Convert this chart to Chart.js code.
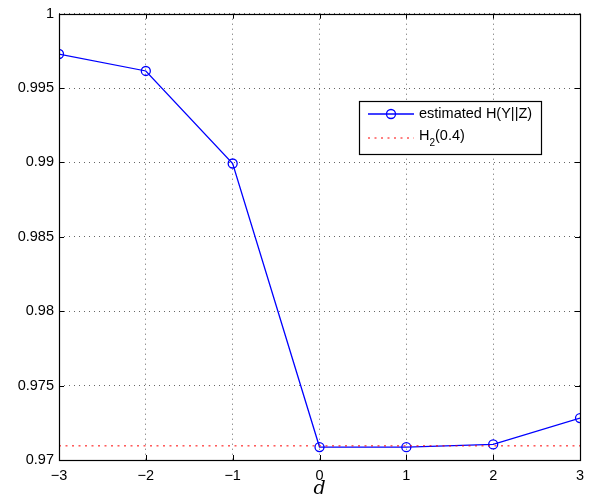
<!DOCTYPE html>
<html>
<head>
<meta charset="utf-8">
<script src="https://cdn.jsdelivr.net/npm/chart.js@4"></script>
<style>
  html, body { margin: 0; padding: 0; background: #fff; }
  #wrap { width: 597px; height: 500px; }
</style>
</head>
<body>
<div id="wrap"><canvas id="lineChart" width="597" height="500"></canvas></div>
<script>
// data
const dValues = [-3, -2, -1, 0, 1, 2, 3];
const estimatedH = [0.99729, 0.99615, 0.98993, 0.97087, 0.97086, 0.97105, 0.97282];
const h2Level = 0.97095; // H2(0.4)
const xTicks = [-3, -2, -1, 0, 1, 2, 3];
const yTicks = [0.97, 0.975, 0.98, 0.985, 0.99, 0.995, 1];

const fontFamily = "'Liberation Sans', Arial, sans-serif";

// box, inward ticks and legend, like a matlab figure
const matlabFrame = {
    id: 'matlabFrame',
    afterDraw(chart) {
        const ctx = chart.ctx;
        const a = chart.chartArea;
        const xs = chart.scales.x, ys = chart.scales.y;
        ctx.save();
        ctx.strokeStyle = '#000';
        ctx.lineWidth = 1;
        ctx.setLineDash([]);
        ctx.beginPath();
        xTicks.forEach(t => {
            const px = Math.round(xs.getPixelForValue(t)) + 0.5;
            ctx.moveTo(px, a.bottom); ctx.lineTo(px, a.bottom - 5);
            ctx.moveTo(px, a.top); ctx.lineTo(px, a.top + 5);
        });
        yTicks.forEach(t => {
            const py = Math.round(ys.getPixelForValue(t)) + 0.5;
            ctx.moveTo(a.left, py); ctx.lineTo(a.left + 5, py);
            ctx.moveTo(a.right, py); ctx.lineTo(a.right - 5, py);
        });
        ctx.stroke();
        ctx.lineWidth = 1.2;
        ctx.strokeRect(Math.round(a.left) + 0.5, Math.round(a.top) + 0.5,
            Math.round(a.right - a.left), Math.round(a.bottom - a.top));

        // legend
        const lx = 359.5, ly = 101.5, lw = 182, lh = 53;
        ctx.fillStyle = '#fff';
        ctx.fillRect(lx, ly, lw, lh);
        ctx.strokeStyle = '#000';
        ctx.lineWidth = 1.2;
        ctx.strokeRect(lx, ly, lw, lh);

        ctx.strokeStyle = '#0000ff';
        ctx.lineWidth = 1.3;
        ctx.beginPath();
        ctx.moveTo(368, 114); ctx.lineTo(414, 114);
        ctx.stroke();
        ctx.beginPath();
        ctx.arc(391, 114, 4.5, 0, Math.PI * 2);
        ctx.stroke();

        ctx.strokeStyle = '#ff0000';
        ctx.lineWidth = 1;
        ctx.setLineDash([2, 4.5]);
        ctx.beginPath();
        ctx.moveTo(368, 138); ctx.lineTo(414, 138);
        ctx.stroke();
        ctx.setLineDash([]);

        ctx.fillStyle = '#000';
        ctx.font = '14.5px ' + fontFamily;
        ctx.textBaseline = 'middle';
        ctx.textAlign = 'left';
        ctx.fillText('estimated H(Y||Z)', 419, 114);
        ctx.fillText('H', 419, 136);
        const hw = ctx.measureText('H').width;
        ctx.font = '10px ' + fontFamily;
        ctx.fillText('2', 419 + hw, 143);
        const sw = ctx.measureText('2').width;
        ctx.font = '14.5px ' + fontFamily;
        ctx.fillText('(0.4)', 419 + hw + sw, 136);
        ctx.restore();
    }
};

const ctx = document.getElementById('lineChart').getContext('2d');

new Chart(ctx, {
    type: 'line',
    data: {
        datasets: [
            {
                label: 'H2(0.4)',
                data: [{ x: -3, y: h2Level }, { x: 3, y: h2Level }],
                borderColor: '#ff0000',
                borderWidth: 1,
                borderDash: [2, 4.5],
                pointRadius: 0,
                fill: false
            },
            {
                label: 'estimated H(Y||Z)',
                data: dValues.map((d, i) => ({ x: d, y: estimatedH[i] })),
                borderColor: '#0000ff',
                borderWidth: 1.3,
                pointRadius: 4.5,
                pointBorderWidth: 1.3,
                pointBackgroundColor: 'rgba(0,0,0,0)',
                pointBorderColor: '#0000ff',
                tension: 0,
                fill: false
            }
        ]
    },
    options: {
        responsive: false,
        animation: false,
        layout: { padding: { left: 0, right: 17, top: 10, bottom: 0 } },
        plugins: {
            legend: { display: false },
            tooltip: { enabled: false }
        },
        scales: {
            x: {
                type: 'linear',
                min: -3, max: 3,
                afterBuildTicks: s => { s.ticks = xTicks.map(v => ({ value: v })); },
                afterFit: s => { s.height = 40; },
                border: { display: false, dash: [1, 4] },
                grid: { color: 'rgba(0,0,0,0.6)', drawTicks: false, lineWidth: 1 },
                ticks: {
                    color: '#000',
                    padding: 7,
                    font: { family: fontFamily, size: 14.5 },
                    callback: v => String(v).replace('-', '\u2212')
                },
                title: {
                    display: true,
                    text: 'd',
                    color: '#000',
                    padding: { top: -2, bottom: 0 },
                    font: { family: "'DejaVu Serif', 'Liberation Serif', serif", style: 'italic', size: 19 }
                }
            },
            y: {
                min: 0.97, max: 1,
                afterBuildTicks: s => { s.ticks = yTicks.map(v => ({ value: v })); },
                afterFit: s => { s.width = 59; },
                border: { display: false, dash: [1, 4] },
                grid: { color: 'rgba(0,0,0,0.6)', drawTicks: false, lineWidth: 1 },
                ticks: {
                    color: '#000',
                    padding: 5,
                    font: { family: fontFamily, size: 14.5 },
                    callback: v => String(parseFloat(v.toFixed(3)))
                }
            }
        }
    },
    plugins: [matlabFrame]
});
</script>
</body>
</html>
